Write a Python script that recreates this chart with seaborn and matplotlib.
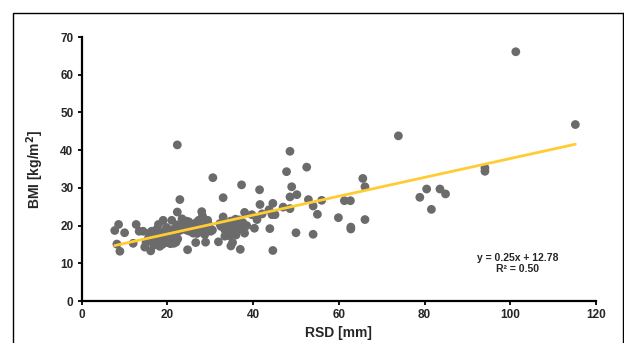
import numpy as np
import pandas as pd
import seaborn as sns
import matplotlib.pyplot as plt
from matplotlib.patches import Rectangle

# RSD [mm] vs BMI [kg/m2]
rsd = [7.7, 8.6, 8.2, 8.9, 10.0, 12.0, 12.7, 13.4, 14.3, 14.7, 15.0, 16.1, 15.6, 16.3,
       17.2, 17.8, 17.5, 18.2, 19.0, 17.9, 19.0, 19.1, 20.1, 20.5, 21.0, 20.7, 21.7, 22.0,
       22.3, 22.3, 22.9, 23.4, 22.9, 24.4, 24.7, 24.7, 25.7, 26.6, 26.9, 27.3, 28.0, 28.0,
       28.5, 28.9, 29.4, 30.1, 30.6, 31.9, 33.0, 33.0, 33.3, 33.4, 34.5, 34.8, 35.2, 35.9,
       36.1, 37.0, 37.3, 38.0, 38.0, 38.5, 39.7, 40.3, 40.9, 41.5, 41.6, 42.1, 43.7, 43.9,
       44.4, 44.6, 44.6, 45.1, 47.0, 47.8, 48.6, 48.6, 48.6, 49.0, 50.0, 50.2, 52.5, 52.9,
       54.0, 54.0, 55.0, 56.0, 59.9, 61.3, 62.7, 62.8, 62.8, 65.6, 66.1, 66.1, 73.9, 78.9,
       80.5, 81.6, 83.6, 84.9, 94.1, 94.1, 101.3, 115.2,
       # dense cluster around 15-24 mm
       15.5, 16.5, 17.0, 17.5, 18.0, 18.5, 19.0, 19.5, 19.8, 20.0, 20.3, 20.6, 21.0, 21.3,
       21.6, 22.0, 22.4, 22.6, 21.5, 18.8, 16.8, 17.3, 19.3, 20.8, 23.0, 23.8, 24.0, 22.2,
       21.2, 19.6,
       # cluster around 25-30 mm
       25.2, 25.8, 26.3, 26.8, 27.2, 27.6, 27.9, 28.3, 28.7, 29.0, 29.3, 29.7, 30.5, 26.0,
       27.0, 28.2, 25.0,
       # cluster around 32-38 mm
       32.5, 33.0, 33.6, 34.0, 34.3, 34.8, 35.0, 35.5, 35.8, 36.4, 36.8, 37.2, 33.8, 34.6,
       36.0, 37.6, 32.2]
bmi = [18.7, 20.3, 15.1, 13.2, 18.1, 15.3, 20.3, 18.5, 18.5, 14.3, 15.5, 13.3, 17.9, 18.5,
       18.2, 18.7, 16.7, 14.5, 15.8, 20.3, 21.4, 17.9, 18.9, 16.8, 21.4, 15.2, 17.9, 15.6,
       23.6, 41.4, 26.9, 21.8, 18.7, 21.2, 13.6, 18.7, 20.0, 15.5, 17.9, 21.4, 23.7, 20.5,
       18.7, 15.6, 21.4, 18.5, 32.7, 15.7, 27.4, 22.3, 19.1, 17.2, 17.3, 14.6, 15.5, 21.7,
       18.7, 13.7, 30.8, 23.5, 18.0, 20.0, 22.9, 19.3, 21.6, 29.5, 25.6, 23.1, 24.2, 19.2,
       22.9, 13.4, 25.9, 22.9, 24.9, 34.3, 39.7, 27.6, 24.5, 30.3, 18.1, 28.2, 35.5, 26.9,
       25.2, 17.7, 23.0, 26.7, 22.1, 26.6, 26.6, 19.6, 19.1, 32.5, 30.3, 21.6, 43.8, 27.5,
       29.7, 24.3, 29.7, 28.4, 35.3, 34.4, 66.1, 46.8,
       16.5, 17.0, 15.8, 19.0, 17.5, 16.0, 18.0, 16.5, 19.5, 15.5, 17.3, 18.5, 16.2, 19.0,
       17.0, 18.0, 16.5, 19.3, 15.3, 15.0, 14.8, 16.3, 17.0, 17.8, 19.5, 20.0, 19.0, 20.2,
       18.6, 18.8,
       18.5, 19.5, 20.5, 19.0, 18.2, 20.2, 21.8, 19.4, 17.6, 20.8, 19.0, 20.1, 18.8, 18.0,
       21.0, 22.5, 21.0,
       19.8, 21.0, 18.5, 20.2, 19.0, 21.2, 18.0, 20.5, 19.3, 20.0, 21.5, 19.0, 17.8, 17.8,
       17.5, 20.8, 20.5]

# trendline as given in the chart
slope = 0.25
intercept = 12.78
r2 = 0.50

df = pd.DataFrame({'RSD': rsd, 'BMI': bmi})
line_x = np.array([min(rsd), max(rsd)])
line_df = pd.DataFrame({'RSD': line_x, 'BMI': slope * line_x + intercept})

sns.set_style('white')
plt.rcParams['font.family'] = ['Liberation Sans', 'DejaVu Sans']

fig = plt.figure(figsize=(6.24, 3.43), dpi=100)
ax = fig.add_axes([0.131, 0.1224, 0.824, 0.7696])

sns.scatterplot(data=df, x='RSD', y='BMI', ax=ax, color='#6b6b6b', s=40,
                edgecolor='none', zorder=3)
sns.lineplot(data=line_df, x='RSD', y='BMI', ax=ax, color='#ffcc33', lw=2.0, zorder=4)

ax.set_xlim(0, 120)
ax.set_ylim(0, 70)
ax.set_xticks(range(0, 121, 20))
ax.set_yticks(range(0, 71, 10))
ax.set_xlabel('RSD [mm]', fontsize=10, fontweight='bold', labelpad=3)
ax.set_ylabel('BMI [kg/m$^\\mathbf{2}$]', fontsize=10, fontweight='bold', labelpad=10)
ax.tick_params(axis='both', labelsize=8.5, length=3, width=1.3, direction='out', color='black',
               bottom=True, left=True, pad=3)
for lab in ax.get_xticklabels() + ax.get_yticklabels():
    lab.set_fontweight('bold')
sns.despine(ax=ax)
for side in ['left', 'bottom']:
    ax.spines[side].set_linewidth(1.6)
    ax.spines[side].set_color('black')

ax.text(101.8, 10.0, f'y = {slope:.2f}x + {intercept:.2f}\nR\u00b2 = {r2:.2f}',
        ha='center', va='center', fontsize=7.5, fontweight='bold', linespacing=1.1)

# outer frame around the chart area
fig.patches.append(Rectangle((13 / 624, -0.1), 1.2, 1.1 - 13 / 343,
                             transform=fig.transFigure, fill=False, edgecolor='black', lw=1.0))
fig.add_artist(plt.Line2D([623 / 624, 623 / 624], [0, 1 - 13 / 343], transform=fig.transFigure,
                          color='black', lw=1.0))

fig.savefig('out.png', dpi=100)
